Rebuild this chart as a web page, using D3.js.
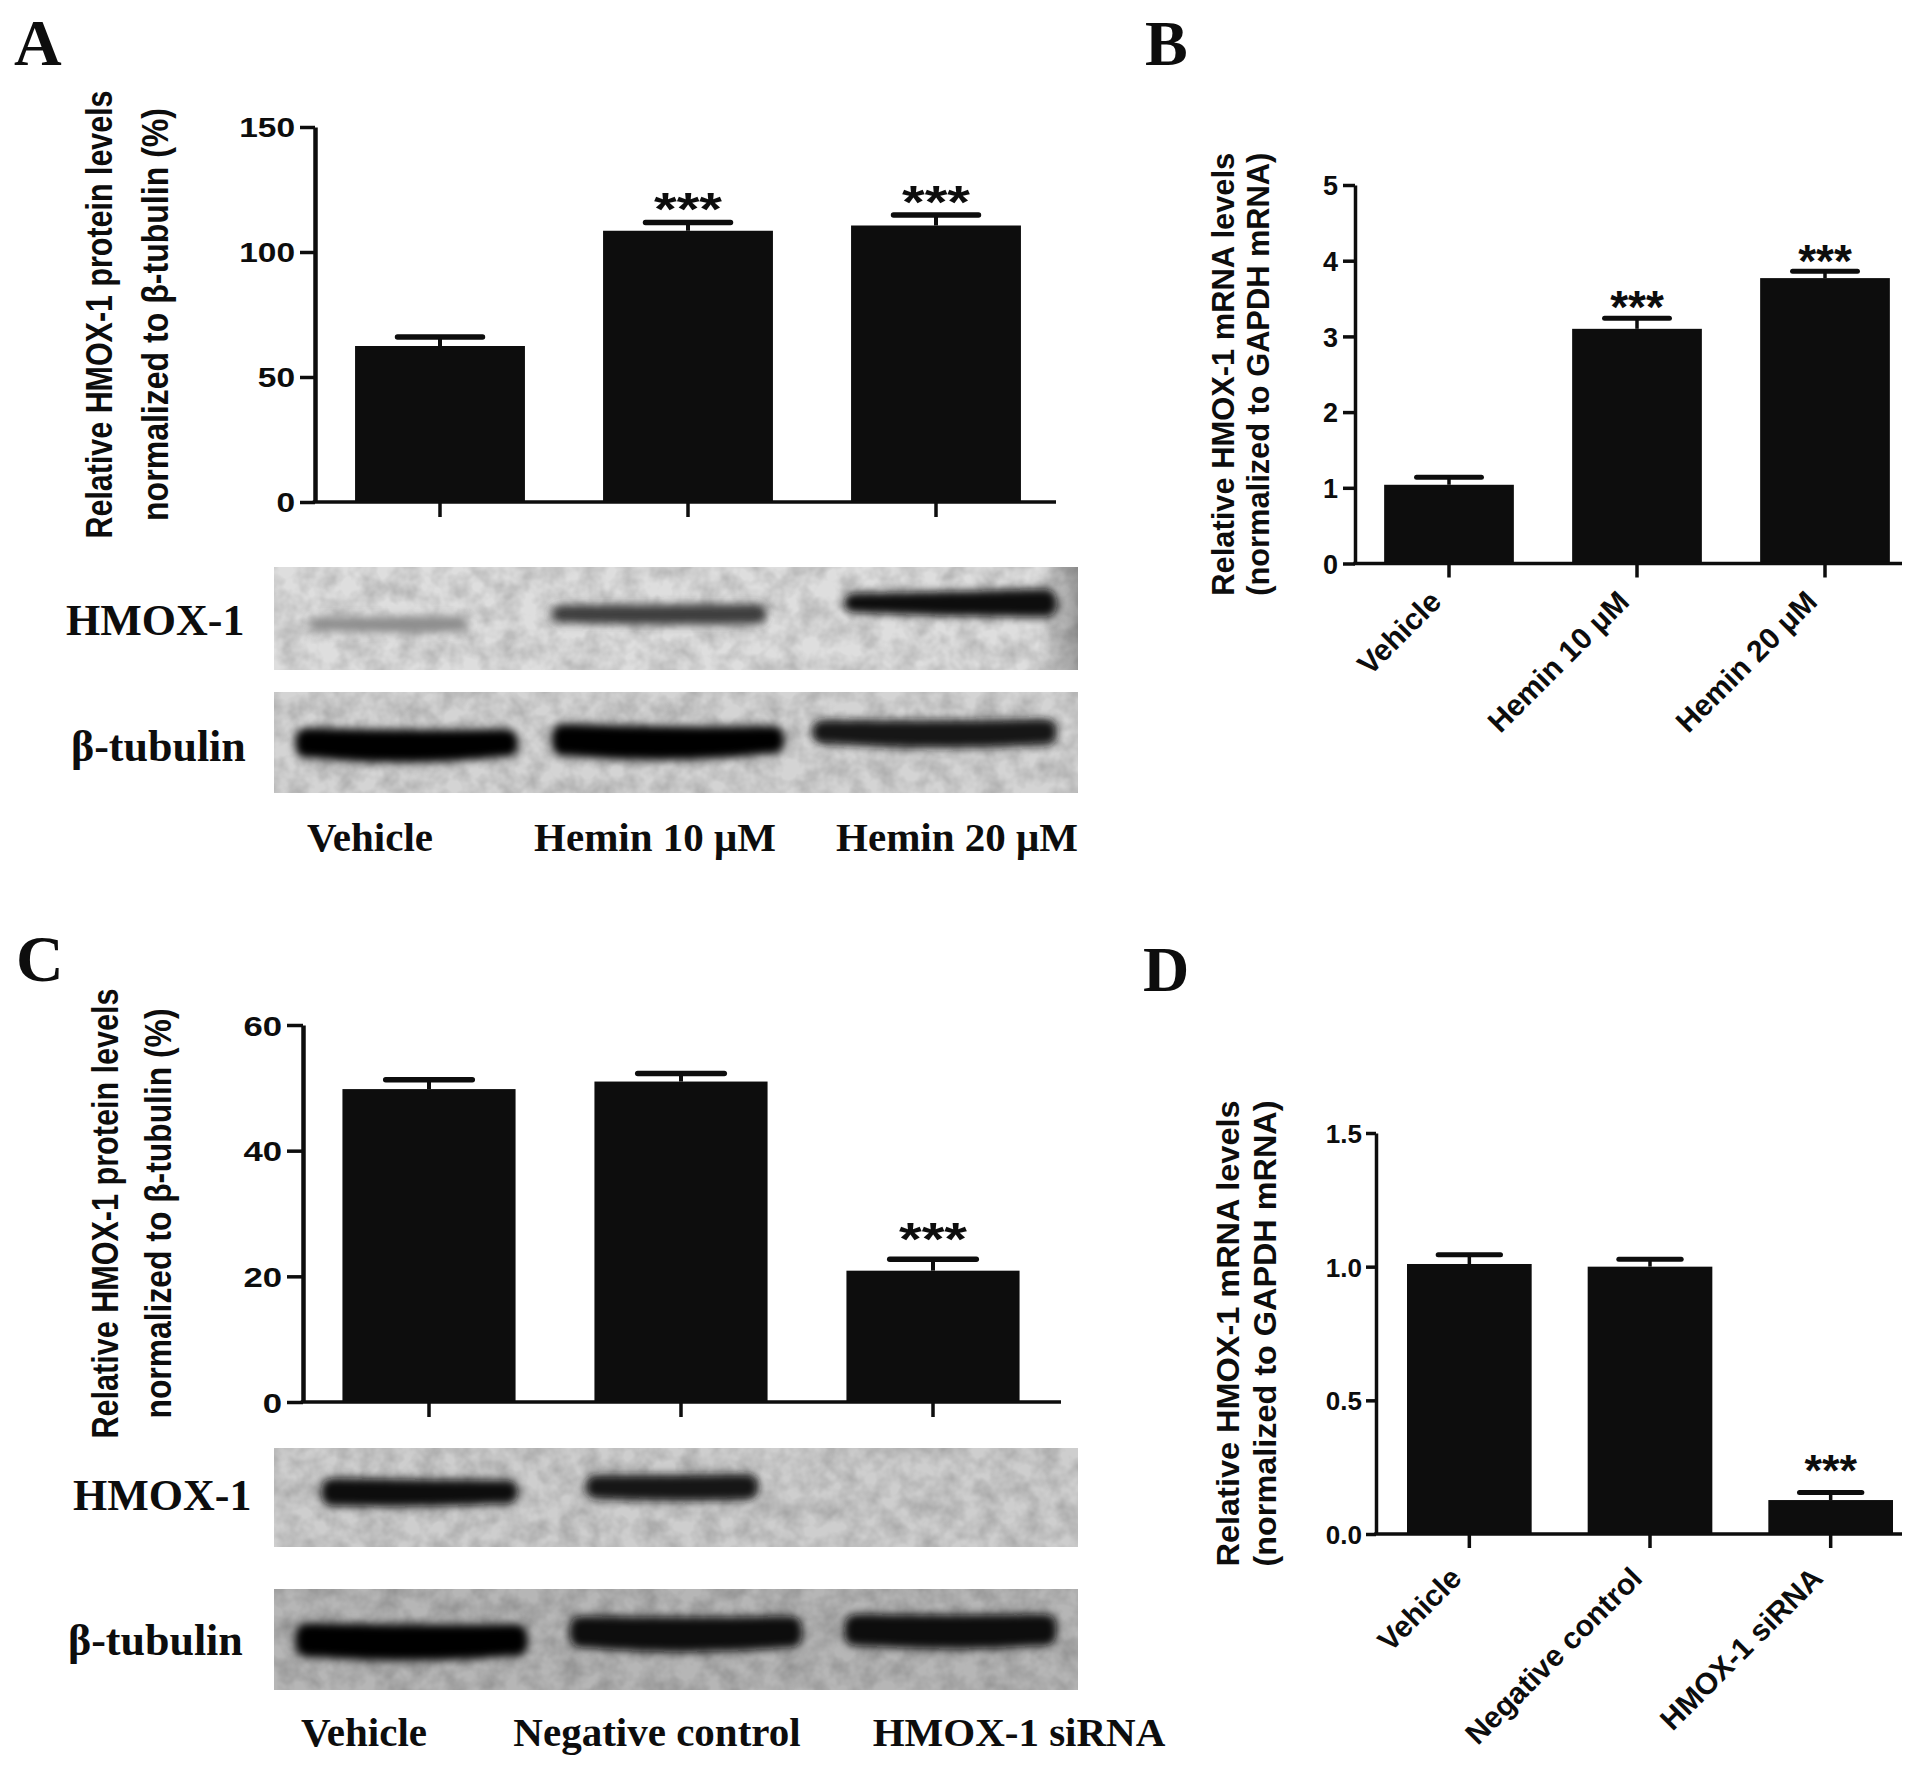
<!DOCTYPE html>
<html><head><meta charset="utf-8">
<script src="https://cdn.jsdelivr.net/npm/d3@7"></script>
<style>body{margin:0;background:#fff}svg{display:block}</style>
</head><body>
<svg id="fig" width="1913" height="1774"></svg>
<script>
// ---------------- DATA ----------------
const catsHemin = ["Vehicle", "Hemin 10 μM", "Hemin 20 μM"];
const catsSi = ["Vehicle", "Negative control", "HMOX-1 siRNA"];

const protA = [62.4, 108.5, 110.6];
const protAErr = [3.6, 3.3, 4.2];
const sigA = ["", "***", "***"];
const ticksA = [0, 50, 100, 150];

const mrnaB = [1.04, 3.10, 3.77];
const mrnaBErr = [0.10, 0.14, 0.09];
const sigB = ["", "***", "***"];
const ticksB = [0, 1, 2, 3, 4, 5];

const protC = [49.8, 51.0, 20.9];
const protCErr = [1.5, 1.3, 1.8];
const sigC = ["", "", "***"];
const ticksC = [0, 20, 40, 60];

const mrnaD = [1.01, 1.00, 0.127];
const mrnaDErr = [0.035, 0.028, 0.028];
const sigD = ["", "", "***"];
const ticksD = [0, 0.5, 1.0, 1.5];

// western blot band intensities (0 = none, 1 = saturated)
const blotA_HMOX = [0.38, 0.74, 0.96];
const blotA_TUB = [1.0, 1.0, 0.93];
const blotC_HMOX = [0.97, 0.94, 0.0];
const blotC_TUB = [1.0, 0.98, 0.98];

// ---------------- DRAWING ----------------
const svg = d3.select('#fig');
const defs = svg.append('defs');
const SANS = '"Liberation Sans", Arial, sans-serif';
const SERIF = '"Liberation Serif", "Times New Roman", serif';
const INK = '#0d0d0d';

const bf = defs.append('filter').attr('id', 'blur').attr('x', '-30%').attr('y', '-100%').attr('width', '160%').attr('height', '300%');
bf.append('feGaussianBlur').attr('stdDeviation', 4.5);
const nf = defs.append('filter').attr('id', 'noise').attr('x', 0).attr('y', 0).attr('width', '100%').attr('height', '100%');
nf.append('feTurbulence').attr('type', 'fractalNoise').attr('baseFrequency', '0.05').attr('numOctaves', 3).attr('seed', 5).attr('result', 't');
nf.append('feColorMatrix').attr('in', 't').attr('type', 'matrix')
  .attr('values', '0 0 0 0 0  0 0 0 0 0  0 0 0 0 0  0.32 0 0 0 -0.1');
const rg = defs.append('linearGradient').attr('id', 'edgeDark').attr('x1', 0).attr('x2', 1).attr('y1', 0).attr('y2', 0);
rg.append('stop').attr('offset', '0.95').attr('stop-color', '#000').attr('stop-opacity', 0);
rg.append('stop').attr('offset', '1').attr('stop-color', '#000').attr('stop-opacity', 0.3);

function drawPanel(c) {
  const g = svg.append('g');
  const x = d3.scaleBand().domain(c.cats).range(c.xRange).paddingInner(c.pad).paddingOuter(c.pad / 2);
  const y = d3.scaleLinear().domain([c.ticks[0], c.ticks[c.ticks.length - 1]]).range(c.yRange);
  const rows = c.cats.map((k, i) => ({ k, v: c.vals[i], e: c.errs[i], s: c.sig[i] }));
  const bw = x.bandwidth();
  const cx = d => x(d.k) + bw / 2;

  g.selectAll('rect.bar').data(rows).join('rect').attr('class', 'bar')
    .attr('x', d => x(d.k)).attr('width', bw)
    .attr('y', d => y(d.v)).attr('height', d => y(0) - y(d.v)).attr('fill', INK);
  g.selectAll('line.ev').data(rows).join('line').attr('class', 'ev')
    .attr('x1', cx).attr('x2', cx).attr('y1', d => y(d.v)).attr('y2', d => y(d.v + d.e))
    .attr('stroke', INK).attr('stroke-width', c.lw);
  g.selectAll('line.cap').data(rows).join('line').attr('class', 'cap')
    .attr('x1', d => cx(d) - bw / 4).attr('x2', d => cx(d) + bw / 4)
    .attr('y1', d => y(d.v + d.e)).attr('y2', d => y(d.v + d.e))
    .attr('stroke', INK).attr('stroke-width', c.capW).attr('stroke-linecap', 'round');
  g.selectAll('text.sig').data(rows.filter(d => d.s)).join('text').attr('class', 'sig')
    .attr('transform', d => `translate(${cx(d)},${y(d.v + d.e) - c.starGap + 0.57 * c.starFs}) scale(${c.sx},1)`)
    .attr('text-anchor', 'middle').attr('font-family', SANS).attr('font-weight', 'bold')
    .attr('font-size', c.starFs).attr('fill', INK).text(d => d.s);

  // y axis
  const ya = g.append('g').attr('transform', `translate(${c.axisX},0)`)
    .call(d3.axisLeft(y).tickValues(c.ticks).tickFormat(c.fmt).tickSize(c.yTick).tickPadding(c.yPad).tickSizeOuter(0));
  ya.select('.domain').attr('stroke', INK).attr('stroke-width', c.axW);
  ya.selectAll('.tick line').attr('stroke', INK).attr('stroke-width', c.tkW);
  ya.selectAll('.tick text').attr('font-family', SANS).attr('font-weight', 'bold').attr('font-size', c.tickFs)
    .attr('fill', INK).attr('x', -(c.yTick + c.yPad) / c.sx).attr('dy', '0.36em')
    .attr('transform', `scale(${c.sx},1)`);

  // x axis
  const xa = g.append('g').attr('transform', `translate(0,${c.yRange[0]})`)
    .call(d3.axisBottom(x).tickSize(c.xTick).tickSizeOuter(0).tickFormat(c.xLabels ? null : ''));
  xa.select('.domain').attr('d', `M${c.axisX - c.axW / 2},0H${c.axisEnd}`).attr('stroke', INK).attr('stroke-width', c.tkW);
  xa.selectAll('.tick line').attr('stroke', INK).attr('stroke-width', c.tkW);
  if (c.xLabels) {
    xa.selectAll('.tick text').attr('font-family', SANS).attr('font-weight', 'bold').attr('font-size', c.xFs)
      .attr('fill', INK).attr('text-anchor', 'end').attr('x', 0).attr('y', 0).attr('dy', 0)
      .attr('transform', `translate(${c.xLabDx},${c.xLabDy}) rotate(-45)`);
  }

  // y title (two lines, rotated)
  const ymid = (c.yRange[0] + c.yRange[1]) / 2;
  c.title.forEach((t, i) => {
    g.append('text')
      .attr('transform', `translate(${c.titleX[i]},${ymid}) scale(${c.sx},1) rotate(-90)`)
      .attr('text-anchor', 'middle').attr('font-family', SANS).attr('font-weight', 'bold')
      .attr('font-size', c.titleFs).attr('fill', INK)
      .attr('textLength', c.titleLen[i]).attr('lengthAdjust', 'spacingAndGlyphs')
      .text(t);
  });
}

drawPanel({
  cats: catsHemin, vals: protA, errs: protAErr, sig: sigA, ticks: ticksA, fmt: d3.format('d'),
  xRange: [316, 1060], pad: 0.315, yRange: [502, 127], axisX: 315, axisEnd: 1056,
  lw: 4, capW: 5.5, axW: 4.5, tkW: 3.5, yTick: 15, yPad: 5, tickFs: 27, sx: 1.24, xTick: 15,
  starFs: 47, starGap: 24,
  title: ['Relative HMOX-1 protein levels', 'normalized to β-tubulin  (%)'],
  titleX: [112, 168], titleFs: 30, titleLen: [448, 413]
});
drawPanel({
  cats: catsHemin, vals: mrnaB, errs: mrnaBErr, sig: sigB, ticks: ticksB, fmt: d3.format('d'),
  xRange: [1355, 1919], pad: 0.31, yRange: [563.5, 185], axisX: 1355, axisEnd: 1902,
  lw: 3.5, capW: 5, axW: 3.5, tkW: 3.5, yTick: 12, yPad: 5, tickFs: 27, sx: 1, xTick: 14,
  starFs: 46, starGap: 21,
  xLabels: true, xFs: 30, xLabDx: -6, xLabDy: 40,
  title: ['Relative HMOX-1 mRNA levels', '(normalized to GAPDH mRNA)'],
  titleX: [1234, 1269], titleFs: 31, titleLen: [443, 443]
});
drawPanel({
  cats: catsSi, vals: protC, errs: protCErr, sig: sigC, ticks: ticksC, fmt: d3.format('d'),
  xRange: [303, 1059], pad: 0.313, yRange: [1402, 1025], axisX: 303, axisEnd: 1061,
  lw: 4, capW: 5.5, axW: 4.5, tkW: 3.5, yTick: 16, yPad: 5, tickFs: 28, sx: 1.24, xTick: 15,
  starFs: 47, starGap: 31,
  title: ['Relative HMOX-1 protein levels', 'normalized to β-tubulin  (%)'],
  titleX: [118, 171], titleFs: 30, titleLen: [450, 410]
});
drawPanel({
  cats: catsSi, vals: mrnaD, errs: mrnaDErr, sig: sigD, ticks: ticksD, fmt: d3.format('.1f'),
  xRange: [1379, 1921], pad: 0.31, yRange: [1534, 1133], axisX: 1376, axisEnd: 1902,
  lw: 3.5, capW: 5, axW: 3.5, tkW: 3.5, yTick: 10, yPad: 4, tickFs: 26, sx: 1, xTick: 14,
  starFs: 45, starGap: 32,
  xLabels: true, xFs: 30, xLabDx: -6, xLabDy: 46,
  title: ['Relative HMOX-1 mRNA levels', '(normalized to GAPDH mRNA)'],
  titleX: [1239, 1276], titleFs: 32, titleLen: [466, 466]
});

// ---------------- WESTERN BLOTS ----------------
function bandPath(x0, x1, yc, tL, tR, sag) {
  const xm = (x0 + x1) / 2;
  return `M${x0},${yc} C${x0},${yc - tL} ${x0 + 8},${yc - tL} ${x0 + 18},${yc - tL}`
    + ` Q${xm},${yc - (tL + tR) / 2 + sag * 0.25} ${x1 - 18},${yc - tR}`
    + ` C${x1 - 8},${yc - tR} ${x1},${yc - tR} ${x1},${yc}`
    + ` C${x1},${yc + tR} ${x1 - 8},${yc + tR} ${x1 - 18},${yc + tR}`
    + ` Q${xm},${yc + (tL + tR) / 2 + sag} ${x0 + 18},${yc + tL}`
    + ` C${x0 + 8},${yc + tL} ${x0},${yc + tL} ${x0},${yc} Z`;
}
function drawBlot(cats, intens, box, bg, geo, edge) {
  const g = svg.append('g');
  const lane = d3.scaleBand().domain(cats).range([box[0], box[1]]).paddingInner(0.12).paddingOuter(0.08);
  g.append('rect').attr('x', box[0]).attr('y', box[2]).attr('width', box[1] - box[0]).attr('height', box[3] - box[2]).attr('fill', bg);
  g.append('rect').attr('x', box[0]).attr('y', box[2]).attr('width', box[1] - box[0]).attr('height', box[3] - box[2])
    .attr('filter', 'url(#noise)').attr('fill', '#000');
  if (edge) g.append('rect').attr('x', box[0]).attr('y', box[2]).attr('width', box[1] - box[0]).attr('height', box[3] - box[2]).attr('fill', 'url(#edgeDark)');
  const rows = cats.map((k, i) => ({ k, v: intens[i], g: geo[i] })).filter(d => d.v > 0);
  g.selectAll('path.band').data(rows).join('path').attr('class', 'band')
    .attr('d', d => bandPath(lane(d.k) + d.g[0], lane(d.k) + lane.bandwidth() + d.g[1], d.g[2], d.g[3], d.g[4], d.g[5]))
    .attr('fill', d => d3.rgb(225 - 220 * d.v, 225 - 220 * d.v, 225 - 220 * d.v))
    .attr('filter', 'url(#blur)');
}
// geometry per lane: [left inset, right inset, y centre, half-thickness left, half-thickness right, sag]
drawBlot(catsHemin, blotA_HMOX, [274, 1078, 567, 670], '#dedede',
  [[16, -60, 624, 7, 8, 2], [-8, -26, 614, 9, 10, 2], [20, 0, 603, 10, 14, 2]], true);
drawBlot(catsHemin, blotA_TUB, [274, 1078, 692, 793], '#d4d4d4',
  [[0, -10, 743, 15, 14, 10], [-8, -8, 740, 16, 14, 10], [-12, 0, 732, 12, 13, 7]], false);
drawBlot(catsSi, blotC_HMOX, [274, 1078, 1448, 1547], '#cecece',
  [[26, -10, 1492, 14, 12, 3], [26, -34, 1487, 12, 13, 3], [0, 0, 1490, 8, 8, 0]], false);
drawBlot(catsSi, blotC_TUB, [274, 1078, 1589, 1690], '#b6b6b6',
  [[0, 0, 1640, 17, 16, 8], [10, 10, 1632, 16, 16, 8], [20, 0, 1630, 16, 16, 6]], false);

// blot row labels and lane labels (serif)
const serif = (t, x, y, fs, anchor) => svg.append('text').attr('x', x).attr('y', y)
  .attr('font-family', SERIF).attr('font-weight', 'bold').attr('font-size', fs)
  .attr('fill', INK).attr('text-anchor', anchor || 'start').text(t);
serif('HMOX-1', 66, 635, 44); serif('β-tubulin', 71, 761, 44);
serif('HMOX-1', 73, 1510, 44); serif('β-tubulin', 68, 1655, 44);
const laneLabA = [370, 655, 957], laneLabC = [364, 657, 1019];
catsHemin.forEach((t, i) => serif(t, laneLabA[i], 851, 41, 'middle'));
catsSi.forEach((t, i) => serif(t, laneLabC[i], 1746, 41, 'middle'));

// panel letters
serif('A', 14, 65, 66); serif('B', 1145, 65, 64);
serif('C', 16, 981, 66); serif('D', 1143, 991, 64);
</script>
</body></html>
